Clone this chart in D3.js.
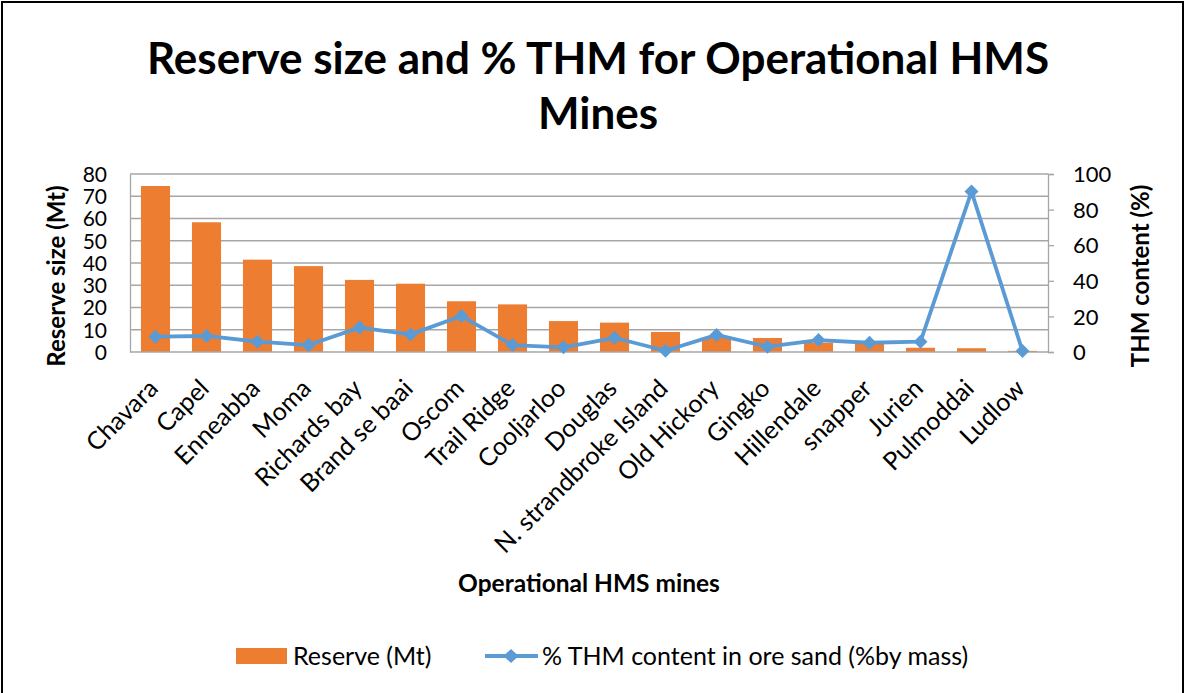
<!DOCTYPE html>
<html>
<head>
<meta charset="utf-8">
<script src="https://cdn.jsdelivr.net/npm/d3@7"></script>
<style>
  body { margin: 0; background: #fff; }
  text { font-family: Lato, "Open Sans", sans-serif; fill: #000; }
</style>
</head>
<body>
<div id="chart"></div>
<script>
// chart data
var mines = ["Chavara", "Capel", "Enneabba", "Moma", "Richards bay", "Brand se baai",
  "Oscom", "Trail Ridge", "Cooljarloo", "Douglas", "N. strandbroke Island",
  "Old Hickory", "Gingko", "Hillendale", "snapper", "Jurien", "Pulmoddai", "Ludlow"];
var reserve = [74.6, 58.3, 41.5, 38.6, 32.4, 30.7, 22.8, 21.4, 13.9, 13.2, 9.0,
  6.5, 6.3, 4.2, 4.0, 1.9, 1.7, 0.5];
var thm = [8.6, 9.0, 5.8, 3.9, 13.7, 9.9, 20.2, 3.9, 2.6, 8.0, 0.7,
  9.6, 3.0, 6.7, 5.2, 5.8, 90.1, 0.5];
var leftTicks = [0, 10, 20, 30, 40, 50, 60, 70, 80];
var rightTicks = [0, 20, 40, 60, 80, 100];

var svgWidth = 1186;
var svgHeight = 693;

var margin = { top: 174, right: 138, bottom: 341, left: 130 };
var width = svgWidth - margin.left - margin.right;
var height = svgHeight - margin.top - margin.bottom;

var barColor = "#ed7d31";
var lineColor = "#5b9bd5";
var gridColor = "#a6a6a6";

var svg = d3.select("#chart")
  .append("svg")
  .attr("width", svgWidth)
  .attr("height", svgHeight);

// outer border
svg.append("rect")
  .attr("x", 2).attr("y", 2)
  .attr("width", svgWidth - 5).attr("height", svgHeight + 10)
  .attr("fill", "none")
  .attr("stroke", "#000")
  .attr("stroke-width", 2);

// title
var title = svg.append("text")
  .attr("text-anchor", "middle")
  .style("font-size", "44px")
  .style("font-weight", "bold");
title.append("tspan").attr("x", 598).attr("y", 74).text("Reserve size and % THM for Operational HMS");
title.append("tspan").attr("x", 598).attr("y", 129).text("Mines");

var chartGroup = svg.append("g")
  .attr("transform", `translate(${margin.left}, ${margin.top})`);

var xScale = d3.scaleBand()
  .domain(mines)
  .range([0, width])
  .paddingInner(0.43)
  .paddingOuter(0.215);

var xPoint = d => xScale(d) + xScale.bandwidth() / 2;

var yLeft = d3.scaleLinear().domain([0, 80]).range([height, 0]);
var yRight = d3.scaleLinear().domain([0, 100]).range([height, 0]);

// gridlines
chartGroup.append("g")
  .selectAll("line")
  .data(leftTicks.slice(1))
  .enter()
  .append("line")
  .attr("x1", 0).attr("x2", width)
  .attr("y1", d => yLeft(d)).attr("y2", d => yLeft(d))
  .attr("stroke", gridColor)
  .attr("stroke-width", 1.3);

// left axis
var leftAxis = d3.axisLeft(yLeft).tickValues(leftTicks).tickSize(0).tickPadding(23);
var leftG = chartGroup.append("g").call(leftAxis);
leftG.select(".domain").attr("stroke", gridColor).attr("stroke-width", 1.3);
leftG.selectAll("text").style("font-size", "21px").attr("dy", "0.35em");

// right axis
var rightAxis = d3.axisRight(yRight).tickValues(rightTicks).tickSize(6).tickPadding(19);
var rightG = chartGroup.append("g")
  .attr("transform", `translate(${width}, 0)`)
  .call(rightAxis);
rightG.select(".domain").attr("stroke", gridColor).attr("stroke-width", 1.3);
rightG.selectAll("line").attr("stroke", gridColor).attr("stroke-width", 1.3);
rightG.selectAll("text").style("font-size", "22px").attr("dy", "0.35em");

// bars
chartGroup.selectAll(".bar")
  .data(mines)
  .enter()
  .append("rect")
  .attr("class", "bar")
  .attr("x", d => xScale(d))
  .attr("y", (d, i) => yLeft(reserve[i]))
  .attr("width", xScale.bandwidth())
  .attr("height", (d, i) => height - yLeft(reserve[i]))
  .attr("fill", barColor);

// x axis line
chartGroup.append("line")
  .attr("x1", 0).attr("x2", width)
  .attr("y1", height).attr("y2", height)
  .attr("stroke", gridColor)
  .attr("stroke-width", 1.3);

// THM line
var line = d3.line()
  .x((d, i) => xPoint(mines[i]))
  .y(d => yRight(d));

chartGroup.append("path")
  .datum(thm)
  .attr("d", line)
  .attr("fill", "none")
  .attr("stroke", lineColor)
  .attr("stroke-width", 3.8)
  .attr("stroke-linejoin", "round");

var diamond = "M0,-7L7,0L0,7L-7,0Z";
chartGroup.selectAll(".marker")
  .data(thm)
  .enter()
  .append("path")
  .attr("class", "marker")
  .attr("d", diamond)
  .attr("transform", (d, i) => `translate(${xPoint(mines[i])}, ${yRight(d)})`)
  .attr("fill", lineColor);

// x category labels
chartGroup.selectAll(".xlabel")
  .data(mines)
  .enter()
  .append("text")
  .attr("class", "xlabel")
  .attr("text-anchor", "end")
  .attr("transform", d => `translate(${xPoint(d) + 4}, ${height + 38}) rotate(-45)`)
  .style("font-size", "25px")
  .text(d => d);

// axis titles
svg.append("text")
  .attr("text-anchor", "middle")
  .attr("transform", `translate(65, 276) rotate(-90)`)
  .style("font-size", "24px")
  .style("font-weight", "bold")
  .text("Reserve size (Mt)");

svg.append("text")
  .attr("text-anchor", "middle")
  .attr("transform", `translate(1149, 276) rotate(-90)`)
  .style("font-size", "24px")
  .style("font-weight", "bold")
  .text("THM content (%)");

svg.append("text")
  .attr("text-anchor", "middle")
  .attr("x", 589).attr("y", 592)
  .style("font-size", "24.5px")
  .style("font-weight", "bold")
  .text("Operational HMS mines");

// legend
var legend = svg.append("g");
legend.append("rect")
  .attr("x", 236).attr("y", 648)
  .attr("width", 51).attr("height", 16)
  .attr("fill", barColor);
legend.append("text")
  .attr("x", 293).attr("y", 665)
  .style("font-size", "25px")
  .text("Reserve (Mt)");
legend.append("line")
  .attr("x1", 485).attr("x2", 538)
  .attr("y1", 656).attr("y2", 656)
  .attr("stroke", lineColor)
  .attr("stroke-width", 3.8);
legend.append("path")
  .attr("d", diamond)
  .attr("transform", "translate(511, 656) scale(1.1, 1)")
  .attr("fill", lineColor);
legend.append("text")
  .attr("x", 542).attr("y", 665)
  .style("font-size", "25px")
  .text("% THM content in ore sand (%by mass)");
</script>
</body>
</html>
